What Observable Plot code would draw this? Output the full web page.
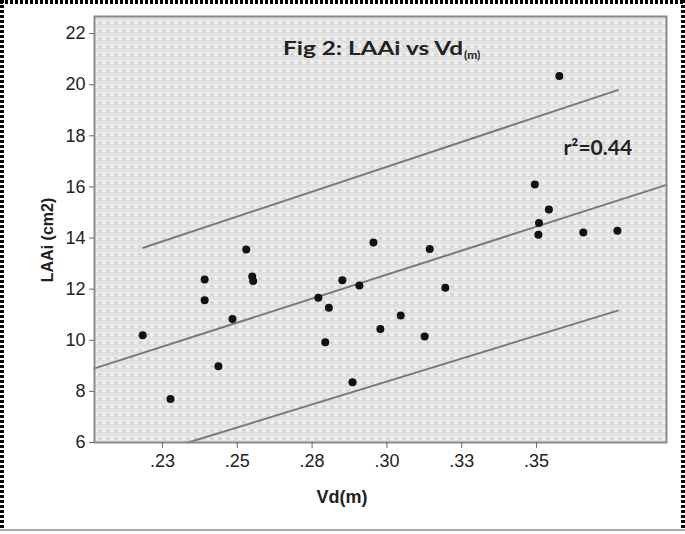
<!DOCTYPE html>
<html><head><meta charset="utf-8">
<script src="https://cdn.jsdelivr.net/npm/d3@7"></script>
<script src="https://cdn.jsdelivr.net/npm/@observablehq/plot@0.6"></script>
<style>
html,body{margin:0;padding:0;background:#fff;}
#wrap{position:relative;width:685px;height:534px;overflow:hidden;}
#chart{position:absolute;left:0;top:0;}
#overlay{position:absolute;left:0;top:0;pointer-events:none;}
</style></head><body>
<div id="wrap"><div id="chart"></div>
<svg id="overlay" width="685" height="534">
  <line x1="2" y1="0" x2="2" y2="531" stroke="#000" stroke-width="4" stroke-dasharray="3 2"/>
  <line x1="0" y1="2" x2="685" y2="2" stroke="#000" stroke-width="4" stroke-dasharray="3 2"/>
  <line x1="683" y1="0" x2="683" y2="531" stroke="#000" stroke-width="4" stroke-dasharray="3 2"/>
  <line x1="0" y1="530" x2="685" y2="530" stroke="#a8a8a8" stroke-width="2"/>
</svg>
</div>
<script>
// Scatter data: Vd(m) vs LAAi (cm2)
const vd = [0.2184,0.2277,0.2391,0.2391,0.2437,0.2484,0.2530,0.2550,0.2553,0.2771,0.2794,0.2806,0.2851,0.2885,0.2908,0.2955,0.2978,0.3046,0.3126,0.3143,0.3195,0.3494,0.3506,0.3508,0.3541,0.3576,0.3656,0.3770];
const laai = [10.20,7.70,12.38,11.57,8.98,10.83,13.55,12.50,12.32,11.66,9.92,11.27,12.35,8.36,12.14,13.83,10.44,10.97,10.15,13.57,12.06,16.10,14.13,14.59,15.12,20.34,14.22,14.29];
// Fit line and prediction band endpoints
const fitX = [0.2023, 0.3934];
const fitY = [8.90, 16.08];
const upperX = [0.2186, 0.3771];
const upperY = [13.62, 19.79];
const lowerX = [0.2336, 0.3771];
const lowerY = [6.00, 11.16];
// Axes
const xDomain = [0.2023, 0.3934];
const yDomain = [6, 22.67];
const xTicks = [0.225, 0.25, 0.275, 0.30, 0.325, 0.35];
const xTickLabels = [".23", ".25", ".28", ".30", ".33", ".35"];
const yTicks = [6, 8, 10, 12, 14, 16, 18, 20, 22];
const titleText = "Fig 2: LAAi vs Vd";
const titleSub = "(m)";
const rsqText = "r²=0.44";
const rsqPos = {x: 0.359, y: 17.5};
const xLabel = "Vd(m)";
const yLabel = "LAAi (cm2)";

const points = vd.map((v, i) => ({x: v, y: laai[i]}));
const mk = (xs, ys, name) => xs.map((v, i) => ({x: v, y: ys[i], s: name}));
const lines = [...mk(fitX, fitY, "fit"), ...mk(upperX, upperY, "upper"), ...mk(lowerX, lowerY, "lower")];

const chart = Plot.plot({
  width: 685, height: 534,
  marginLeft: 94, marginRight: 19, marginTop: 16, marginBottom: 92,
  style: {fontFamily: "'Liberation Sans', Arial, sans-serif", fontSize: "18px", color: "#222", background: "transparent"},
  x: {domain: xDomain},
  y: {domain: yDomain},
  marks: [
    Plot.frame({fill: "url(#pat)"}),
    Plot.line(lines, {x: "x", y: "y", z: "s", stroke: "#7a7a7a", strokeWidth: 2}),
    Plot.dot(points, {x: "x", y: "y", r: 4, fill: "#111", stroke: "none"}),
    Plot.frame({stroke: "#8a8a8a", strokeWidth: 2}),
    Plot.axisX({ticks: xTicks, tickFormat: d => xTickLabels[xTicks.findIndex(t => Math.abs(t - d) < 1e-9)], tickSize: 6, tickPadding: 6, stroke: "#666", label: null}),
    Plot.axisY({ticks: yTicks, tickSize: 5, tickPadding: 4, stroke: "#666", label: null}),
    Plot.text([rsqText], {x: () => rsqPos.x, y: () => rsqPos.y, text: d => d, textAnchor: "start", fontFamily: "Lato, sans-serif", fontWeight: "bold", fontSize: 21, fill: "#222"})
  ]
});
document.getElementById("chart").appendChild(chart);

const svg = d3.select(chart);
const defs = svg.insert("defs", ":first-child");
const pat = defs.append("pattern").attr("id", "pat").attr("width", 8).attr("height", 8).attr("patternUnits", "userSpaceOnUse");
pat.append("rect").attr("width", 8).attr("height", 8).attr("fill", "#f0f0f0");
for (let i = 0; i < 4; i++) for (let j = 0; j < 2; j++) {
  pat.append("rect").attr("x", 2 * i).attr("y", 2 * j).attr("width", 1).attr("height", 1).attr("fill", "#b8b8b8");
}
pat.append("path").attr("d", "M1.5 4.5 L5.5 7.5 M5.5 4.5 L1.5 7.5").attr("stroke", "#b8b8b8").attr("stroke-width", 0.9).attr("fill", "none");

// Title
const t = svg.append("text").attr("x", 283).attr("y", 55).attr("text-anchor", "start").attr("font-family", "Lato, sans-serif").attr("font-weight", "bold").attr("font-size", 19).attr("fill", "#222");
t.append("tspan").attr("textLength", 180).attr("lengthAdjust", "spacingAndGlyphs").text(titleText);
t.append("tspan").attr("font-size", 12).attr("dy", 4).attr("dx", 1).text(titleSub);
// Axis labels
svg.append("text").attr("x", 342).attr("y", 503).attr("text-anchor", "middle").attr("font-family", "'Liberation Sans', Arial, sans-serif").attr("font-weight", "bold").attr("font-size", 18).attr("fill", "#222").text(xLabel);
svg.append("text").attr("transform", "translate(53,240) rotate(-90)").attr("text-anchor", "middle").attr("font-family", "'Liberation Sans', Arial, sans-serif").attr("font-weight", "bold").attr("font-size", 16).attr("fill", "#222").text(yLabel);
</script>
</body></html>
